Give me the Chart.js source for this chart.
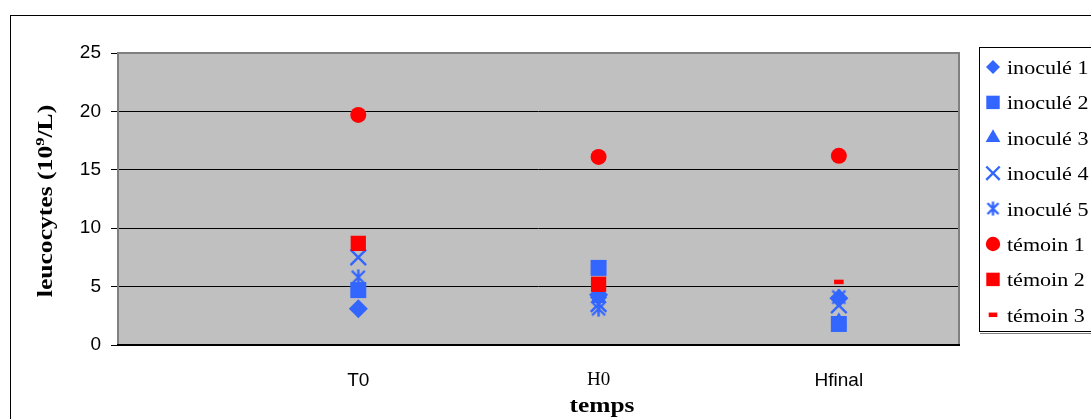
<!DOCTYPE html>
<html>
<head>
<meta charset="utf-8">
<script src="https://cdn.jsdelivr.net/npm/chart.js@4.4.1/dist/chart.umd.min.js"></script>
<style>
  html, body { margin: 0; padding: 0; background: #fff; }
  #wrap { width: 1091px; height: 419px; position: relative; }
</style>
</head>
<body>
<div id="wrap"><canvas id="leucoChart"></canvas></div>
<script>
// temps de prélèvement (axe des x)
var categories = ["T0", "H0", "Hfinal"];

// leucocytes (10^9/L) par animal, dans l'ordre T0, H0, Hfinal
var inocule1 = [3.1, 4.3, 4.0];
var inocule2 = [4.7, 6.6, 1.8];
var inocule3 = [8.5, 4.0, 2.0];
var inocule4 = [7.5, 3.5, 3.4];
var inocule5 = [5.8, 3.1, 4.1];
var temoin1 = [19.7, 16.1, 16.2];
var temoin2 = [8.7, 5.2, null];
var temoin3 = [8.8, 5.2, 5.4];

var yTicks = [0, 5, 10, 15, 20, 25];

var BLEU = "#3366FF";
var ROUGE = "#FF0000";

// astérisque façon Excel : une croix + un trait vertical
function makeAsterisk(size, color) {
    var c = document.createElement("canvas");
    c.width = size;
    c.height = size;
    var g = c.getContext("2d");
    g.strokeStyle = color;
    g.lineWidth = 2.4;
    var m = 2, h = size / 2;
    g.beginPath();
    g.moveTo(m, m); g.lineTo(size - m, size - m);
    g.moveTo(size - m, m); g.lineTo(m, size - m);
    g.moveTo(h, 0.5); g.lineTo(h, size - 0.5);
    g.stroke();
    return c;
}

var asterisk = makeAsterisk(17, BLEU);
var asteriskSmall = makeAsterisk(15, BLEU);

var series = [
    { label: "inoculé 1", values: inocule1, color: BLEU, style: "rectRot", radius: 9.5, legendRadius: 7, line: 0 },
    { label: "inoculé 2", values: inocule2, color: BLEU, style: "rect", radius: 11.3, legendRadius: 9.5, line: 0 },
    { label: "inoculé 3", values: inocule3, color: BLEU, style: "triangle", radius: 9.5, legendRadius: 8.5, line: 0 },
    { label: "inoculé 4", values: inocule4, color: BLEU, style: "crossRot", radius: 11, legendRadius: 9.5, line: 2.4 },
    { label: "inoculé 5", values: inocule5, color: BLEU, style: asterisk, legendStyle: asteriskSmall, radius: 8, legendRadius: 7, line: 0 },
    { label: "témoin 1", values: temoin1, color: ROUGE, style: "circle", radius: 8, legendRadius: 7.2, line: 0 },
    { label: "témoin 2", values: temoin2, color: ROUGE, style: "rect", radius: 10.8, legendRadius: 9.5, line: 0 },
    { label: "témoin 3", values: temoin3, color: ROUGE, style: "line", radius: 4.8, legendRadius: 4.3, line: 4.5 }
];

var datasets = series.map(function (s, i) {
    var pts = [];
    s.values.forEach(function (v, k) {
        if (v !== null) pts.push({ x: k + 1, y: v });
    });
    return {
        label: s.label,
        data: pts,
        showLine: false,
        pointStyle: s.style,
        pointRadius: s.radius,
        pointHoverRadius: s.radius,
        pointBackgroundColor: s.color,
        pointBorderColor: s.color,
        pointBorderWidth: s.line,
        // les séries suivantes passent par-dessus
        order: series.length - i
    };
});

// fond gris, cadres et titres
var decor = {
    id: "decor",
    beforeDraw: function (chart) {
        var ctx = chart.ctx, a = chart.chartArea;
        ctx.save();
        ctx.fillStyle = "#fff";
        ctx.fillRect(0, 0, chart.width, chart.height);
        ctx.strokeStyle = "#000";
        ctx.lineWidth = 1;
        ctx.strokeRect(10.5, 15.5, 1200, 500);
        ctx.fillStyle = "#C0C0C0";
        ctx.fillRect(a.left, a.top, a.right - a.left, a.bottom - a.top);
        ctx.restore();
    },
    beforeDatasetsDraw: function (chart) {
        var ctx = chart.ctx, a = chart.chartArea;
        ctx.save();
        ctx.strokeStyle = "#808080";
        ctx.lineWidth = 2;
        ctx.strokeRect(a.left, a.top, a.right - a.left, a.bottom - a.top);
        ctx.strokeStyle = "#000";
        ctx.beginPath();
        ctx.moveTo(a.left - 1, a.bottom);
        ctx.lineTo(a.right + 1, a.bottom);
        ctx.stroke();
        ctx.restore();
    },
    afterDraw: function (chart) {
        var ctx = chart.ctx;
        ctx.save();
        ctx.fillStyle = "#000";

        // titre de l'axe y avec l'exposant
        ctx.translate(52, 201);
        ctx.rotate(-Math.PI / 2);
        ctx.scale(1.28, 1);
        var big = "bold 20px 'Liberation Serif', 'Times New Roman', serif";
        var small = "bold 13px 'Liberation Serif', 'Times New Roman', serif";
        ctx.font = big;
        var p1 = "leucocytes (10", p3 = "/L)";
        var w1 = ctx.measureText(p1).width, w3 = ctx.measureText(p3).width;
        ctx.font = small;
        var w2 = ctx.measureText("9").width;
        var x0 = -(w1 + w2 + w3) / 2;
        ctx.textBaseline = "alphabetic";
        ctx.font = big;
        ctx.fillText(p1, x0, 0);
        ctx.font = small;
        ctx.fillText("9", x0 + w1, -8);
        ctx.font = big;
        ctx.fillText(p3, x0 + w1 + w2, 0);
        ctx.restore();

        // titre de l'axe x
        ctx.save();
        ctx.translate(602, 412);
        ctx.scale(1.27, 1);
        ctx.font = big;
        ctx.textAlign = "center";
        ctx.fillStyle = "#000";
        ctx.fillText("temps", 0, 0);
        ctx.restore();

        // légende
        ctx.save();
        ctx.strokeStyle = "#808080";
        ctx.beginPath();
        ctx.moveTo(980, 333.5);
        ctx.lineTo(1091, 333.5);
        ctx.stroke();
        ctx.strokeStyle = "#000";
        ctx.fillStyle = "#fff";
        ctx.fillRect(979.5, 47.5, 200, 284);
        ctx.strokeRect(979.5, 47.5, 200, 284);
        series.forEach(function (s, i) {
            var y = 67 + i * 35.4;
            ctx.fillStyle = s.color;
            ctx.strokeStyle = s.color;
            ctx.lineWidth = s.line;
            Chart.helpers.drawPoint(ctx, {
                pointStyle: s.legendStyle || s.style,
                radius: s.legendRadius,
                rotation: 0,
                borderWidth: s.line
            }, 993, y);
            ctx.save();
            ctx.translate(1007, y + 7);
            ctx.scale(1.16, 1);
            ctx.fillStyle = "#000";
            ctx.font = "19px 'Liberation Serif', 'Times New Roman', serif";
            ctx.textBaseline = "alphabetic";
            ctx.fillText(s.label, 0, 0);
            ctx.restore();
        });
        ctx.restore();
    }
};

var sans = { family: "'Liberation Sans', Arial, sans-serif", size: 19 };
var serif = { family: "'Liberation Serif', 'Times New Roman', serif", size: 19 };

var ctx = document.getElementById("leucoChart");
var leucoChart = new Chart(ctx, {
    type: "scatter",
    data: { datasets: datasets },
    plugins: [decor],
    options: {
        responsive: true,
        maintainAspectRatio: false,
        animation: false,
        layout: { padding: { top: 53, right: 132, left: 0, bottom: 0 } },
        plugins: {
            legend: { display: false },
            tooltip: { enabled: false }
        },
        scales: {
            x: {
                type: "linear",
                min: 0,
                max: 3.5,
                afterBuildTicks: function (scale) {
                    scale.ticks = categories.map(function (c, i) { return { value: i + 1 }; });
                },
                afterFit: function (scale) { scale.height = 74; },
                grid: { display: false, drawTicks: false },
                border: { display: false },
                ticks: {
                    autoSkip: false,
                    maxRotation: 0,
                    padding: 24,
                    color: "#000",
                    font: function (c) {
                        // H0 est en police serif
                        return c.tick && c.tick.value === 2 ? serif : sans;
                    },
                    callback: function (value) { return categories[value - 1]; }
                }
            },
            y: {
                min: 0,
                max: 25,
                afterBuildTicks: function (scale) {
                    scale.ticks = yTicks.map(function (v) { return { value: v }; });
                },
                afterFit: function (scale) { scale.width = 118; },
                grid: { color: "#000", lineWidth: 1, tickLength: 7, tickColor: "#000" },
                border: { display: false },
                ticks: {
                    padding: 10,
                    color: "#000",
                    font: sans
                }
            }
        }
    }
});
</script>
</body>
</html>
